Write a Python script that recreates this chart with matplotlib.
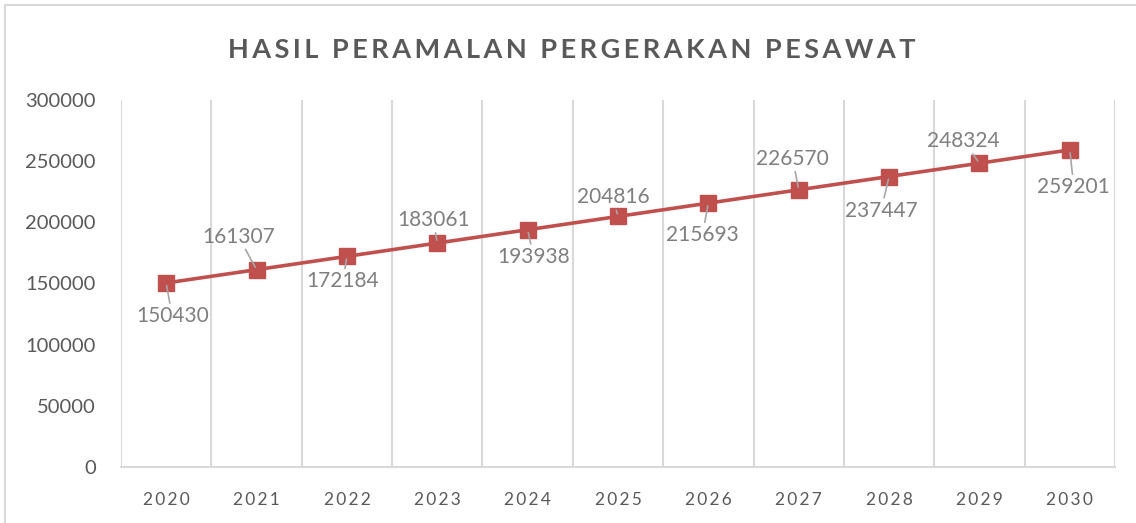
import matplotlib.pyplot as plt
from matplotlib.patches import Rectangle

years = ['2020', '2021', '2022', '2023', '2024', '2025', '2026', '2027', '2028', '2029', '2030']
forecast = [150430, 161307, 172184, 183061, 193938, 204816, 215693, 226570, 237447, 248324, 259201]
# label offsets in pixels (dx, dy) relative to the marker
label_offsets = [(6, -33), (-18, 33), (-4, -25), (-4, 23), (6, -27), (-5, 19),
                 (-6, -32), (-6, 31), (-8, -34), (-16, 22), (4, -37)]

plt.rcParams['font.family'] = ['Lato', 'DejaVu Sans']
HS = '\u200a\u200a'

fig = plt.figure(figsize=(11.36, 5.23), dpi=100)
fig.patches.append(Rectangle((0.004, -0.01), 1.0, 1.0, transform=fig.transFigure,
                             fill=False, edgecolor='#d9d9d9', lw=1.5))
ax = fig.add_axes([0.1065, 0.1071, 0.875, 0.7017])

x = list(range(len(years)))
ax.plot(x, forecast, color='#c0504d', lw=2.6, marker='s', markersize=11, zorder=3)

for xi, v, (dx, dy) in zip(x, forecast, label_offsets):
    ax.annotate(str(v), xy=(xi, v), xytext=(dx * 0.72, dy * 0.72), textcoords='offset points',
                ha='center', va='center', fontsize=15, color='#7f7f7f', zorder=4,
                arrowprops=dict(arrowstyle='-', color='#a6a6a6', lw=1.2, shrinkA=0, shrinkB=2))

ax.set_xlim(-0.5, len(years) - 0.5)
ax.set_ylim(0, 300000)
ax.set_yticks(range(0, 300001, 50000))
ax.set_yticklabels([str(t) for t in range(0, 300001, 50000)])
ax.set_xticks(x)
ax.set_xticklabels([HS.join(y) for y in years])
ax.set_xticks([i - 0.5 for i in range(len(years) + 1)], minor=True)
ax.grid(True, which='minor', axis='x', color='#d9d9d9', lw=1.5)
ax.tick_params(which='both', length=0)
ax.tick_params(axis='y', labelsize=14.5, labelcolor='#595959', pad=18)
ax.tick_params(axis='x', labelsize=12.5, labelcolor='#595959', pad=18)
for s in ['top', 'right', 'left']:
    ax.spines[s].set_visible(False)
ax.spines['bottom'].set_color('#d9d9d9')
ax.spines['bottom'].set_linewidth(1.5)

title = 'HASIL PERAMALAN PERGERAKAN PESAWAT'
fig.text(0.503, 0.905, HS.join(title), ha='center', va='center', fontsize=19.5,
         fontweight='bold', color='#595959')

fig.savefig('out.png', dpi=100)
